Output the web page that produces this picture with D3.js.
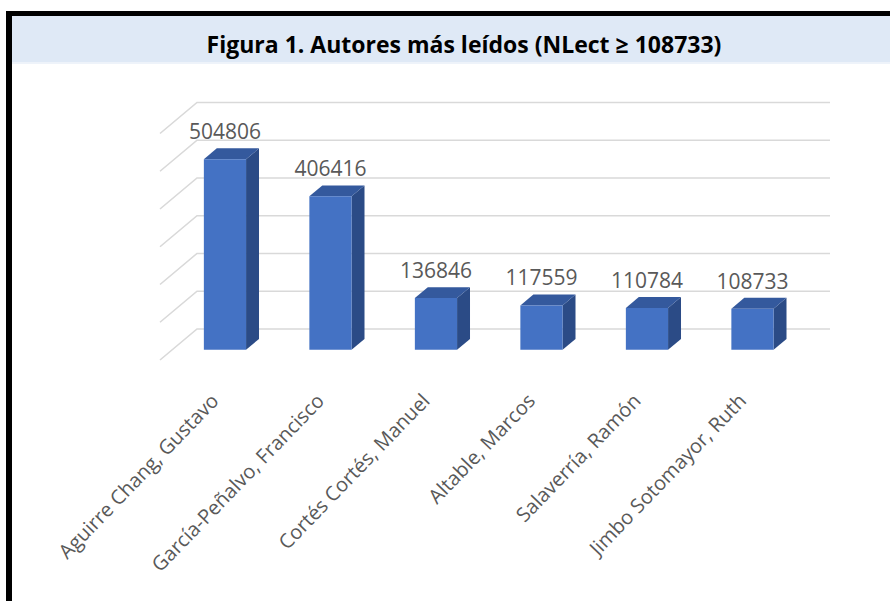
<!DOCTYPE html>
<html>
<head>
<meta charset="utf-8">
<script src="https://cdn.jsdelivr.net/npm/d3@7"></script>
<style>
  body { margin: 0; background: #ffffff; }
  text { font-family: "Open Sans", "Noto Sans", sans-serif; }
</style>
</head>
<body>
<div id="chart"></div>
<script>

const WIDTH = 890;
const HEIGHT = 601;

// Data.
const AUTHORS = ["Aguirre Chang, Gustavo", "García-Peñalvo, Francisco", "Cortés Cortés, Manuel",
                 "Altable, Marcos", "Salaverría, Ramón", "Jimbo Sotomayor, Ruth"];
const LECTURAS = [504806, 406416, 136846, 117559, 110784, 108733];
const TICKS = [0, 100000, 200000, 300000, 400000, 500000, 600000];
const TITLE = "Figura 1. Autores más leídos (NLect ≥ 108733)";

// Back wall of the 3D plot.
const WALL = {'left': 197, 'right': 830, 'top': 102.5, 'bottom': 329};
// Depth vector (front of floor -> back wall).
const DEPTH = {'dx': 37, 'dy': -31};
const BAR_FRONT = 0.33, BAR_BACK = 0.68;   // depth fractions

window.onload = function() {

    var svg = d3.select("#chart").append("svg")
                .attr("width", WIDTH)
                .attr("height", HEIGHT);

    // frame + title band
    svg.append("rect")
       .attr("x", 12).attr("y", 16)
       .attr("width", WIDTH - 12).attr("height", 46)
       .attr("fill", "#dfe9f6");
    svg.append("rect")
       .attr("x", 12).attr("y", 62)
       .attr("width", WIDTH - 12).attr("height", 2)
       .attr("fill", "#eef3fa");
    svg.append("rect")
       .attr("x", 6).attr("y", 11)
       .attr("width", WIDTH).attr("height", 5)
       .attr("fill", "#000");
    svg.append("rect")
       .attr("x", 6).attr("y", 11)
       .attr("width", 6).attr("height", HEIGHT)
       .attr("fill", "#000");

    svg.append("text")
       .attr("x", 464).attr("y", 53)
       .attr("text-anchor", "middle")
       .attr("font-size", "23px")
       .attr("font-weight", "bold")
       .attr("fill", "#000")
       .text(TITLE);

    var x = d3.scaleBand()
              .domain(AUTHORS)
              .range([WALL.left, WALL.right]);

    var y = d3.scaleLinear()
              .domain([0, 600000])
              .range([WALL.bottom, WALL.top]);

    // point at depth fraction f (0 = front, 1 = back wall)
    function px(xBack, f) { return xBack - DEPTH.dx * (1 - f); }
    function py(yBack, f) { return yBack - DEPTH.dy * (1 - f); }

    // gridlines: back wall + side wall
    var grid = svg.append("g")
                  .attr("stroke", "#d9d9d9")
                  .attr("stroke-width", 1.6)
                  .attr("fill", "none");

    grid.selectAll("polyline")
        .data(TICKS)
        .enter()
        .append("polyline")
        .attr("points", function (d) {
            return [[px(WALL.left, 0), py(y(d), 0)],
                    [WALL.left, y(d)],
                    [WALL.right, y(d)]].join(" ");
        });

    var barW = x.bandwidth() * 0.4;

    var bars = svg.selectAll("g.bar")
                  .data(AUTHORS.map(function (a, i) { return {'name': a, 'value': LECTURAS[i]}; }))
                  .enter()
                  .append("g")
                  .attr("class", "bar");

    function corner(d, side, top, f) {
        var xb = x(d.name) + x.bandwidth() / 2 + (side ? barW / 2 : -barW / 2);
        var yb = top ? y(d.value) : y(0);
        return [px(xb, f), py(yb, f)];
    }

    // side face
    bars.append("polygon")
        .attr("fill", "#2b4b86")
        .attr("points", function (d) {
            return [corner(d, 1, 1, BAR_FRONT), corner(d, 1, 1, BAR_BACK),
                    corner(d, 1, 0, BAR_BACK), corner(d, 1, 0, BAR_FRONT)].join(" ");
        });

    // top face
    bars.append("polygon")
        .attr("fill", "#34599d")
        .attr("points", function (d) {
            return [corner(d, 0, 1, BAR_FRONT), corner(d, 0, 1, BAR_BACK),
                    corner(d, 1, 1, BAR_BACK), corner(d, 1, 1, BAR_FRONT)].join(" ");
        });

    // front face
    bars.append("polygon")
        .attr("fill", "#4472c4")
        .attr("points", function (d) {
            return [corner(d, 0, 1, BAR_FRONT), corner(d, 1, 1, BAR_FRONT),
                    corner(d, 1, 0, BAR_FRONT), corner(d, 0, 0, BAR_FRONT)].join(" ");
        });

    // value labels
    bars.append("text")
        .attr("x", function (d) { return px(x(d.name) + x.bandwidth() / 2, BAR_FRONT); })
        .attr("y", function (d) { return py(y(d.value), BAR_FRONT) - 20; })
        .attr("text-anchor", "middle")
        .attr("font-size", "21px")
        .attr("fill", "#595959")
        .text(function (d) { return d.value; });

    // category labels
    svg.selectAll("text.cat")
       .data(AUTHORS)
       .enter()
       .append("text")
       .attr("class", "cat")
       .attr("text-anchor", "end")
       .attr("font-size", "20px")
       .attr("fill", "#595959")
       .attr("transform", function (d) {
           var cx = px(x(d) + x.bandwidth() / 2, BAR_FRONT);
           return "translate(" + (cx - 5) + ",402) rotate(-46)";
       })
       .text(function (d) { return d; });
};

</script>
</body>
</html>
